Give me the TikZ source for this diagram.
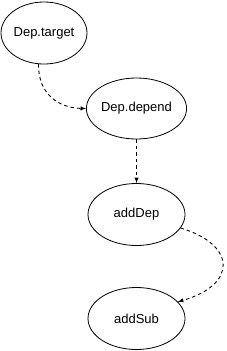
\documentclass[tikz,border=0pt]{standalone}
\usepackage{fontspec}
\setmainfont{Liberation Sans}
\usetikzlibrary{shapes.geometric}

\begin{document}
\begin{tikzpicture}[x=1pt, y=-1pt, >=latex,
  state/.style={draw, line width=0.8pt, ellipse, inner sep=0pt, minimum width=97pt, minimum height=62pt, font=\fontsize{13}{15}\selectfont},
  dep/.style={->, dash pattern=on 3.5pt off 3pt, line width=0.9pt}]
\useasboundingbox (0,0) rectangle (227,351);
\node[state, minimum width=86pt] (target) at (44,33) {Dep.target};
\node[state, minimum height=61pt] (depend) at (136.5,108.5) {Dep.depend};
\node[state] (addDep) at (136.5,214.5) {addDep};
\node[state] (addSub) at (136.5,318.5) {addSub};
\draw[dep] (target.-100) .. controls (38,95) and (60,108) .. (depend.west);
\draw[dep] (depend) -- (addDep);
\draw[dep] (addDep.-17) .. controls (237,245) and (237,285) .. (addSub.22);
\end{tikzpicture}
\end{document}
